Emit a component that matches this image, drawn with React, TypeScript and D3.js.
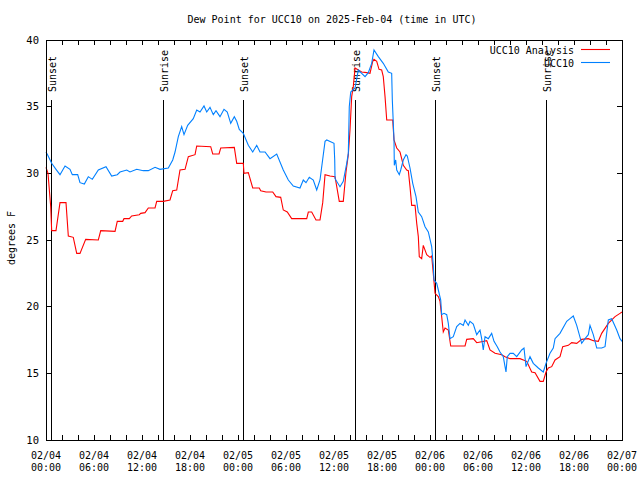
import React from "react";
import * as d3 from "d3";

const title = "Dew Point for UCC10 on 2025-Feb-04 (time in UTC)";
const yLabel = "degrees F";
const yTicks = [10, 15, 20, 25, 30, 35, 40];
const xLabelHours = [0, 6, 12, 18, 24, 30, 36, 42, 48, 54, 60, 66, 72];
const xLabelDates = ["02/04", "02/04", "02/04", "02/04", "02/05", "02/05", "02/05", "02/05", "02/06", "02/06", "02/06", "02/06", "02/07"];
const xLabelTimes = ["00:00", "06:00", "12:00", "18:00", "00:00", "06:00", "12:00", "18:00", "00:00", "06:00", "12:00", "18:00", "00:00"];

const sunHours = [0.63, 14.63, 24.63, 38.63, 48.63, 62.5];
const sunLabels = ["Sunset", "Sunrise", "Sunset", "Sunrise", "Sunset", "Sunrise"];

// hours since 02/04 00:00 UTC
const obsHours = [0, 0.19, 0.71, 1.25, 1.75, 2.38, 3.0, 3.29, 3.96, 4.25, 4.79, 5.29, 5.79, 6.54, 7.5, 8.21, 8.91, 9.25, 10.09, 10.5, 11.34, 12.16, 12.79, 13.63, 14.25, 15.29, 15.84, 16.13, 16.54, 16.96, 17.25, 17.71, 18.41, 18.84, 19.25, 19.75, 20.09, 20.5, 20.91, 21.25, 21.75, 22.25, 22.66, 23.09, 23.54, 23.84, 24.16, 24.66, 25.29, 25.84, 26.34, 26.75, 27.38, 28.0, 28.84, 29.66, 30.29, 30.91, 31.75, 32.16, 32.5, 32.91, 33.41, 33.84, 34.25, 34.88, 35.09, 36.0, 36.09, 36.13, 36.75, 37.16, 37.59, 37.79, 37.91, 38.09, 38.63, 39.04, 39.46, 39.88, 40.29, 40.71, 41.0, 41.54, 42.16, 42.79, 43.21, 43.29, 43.5, 43.54, 43.71, 43.84, 44.16, 44.34, 44.66, 45.0, 45.16, 45.5, 45.84, 46.25, 46.54, 46.96, 47.38, 47.79, 48.21, 48.41, 48.5, 48.84, 49.04, 49.34, 49.46, 49.75, 50.09, 50.29, 50.5, 50.91, 51.34, 51.75, 52.16, 52.38, 52.79, 53.0, 53.41, 53.84, 54.25, 54.46, 54.66, 54.88, 55.29, 55.71, 56.0, 56.41, 56.75, 57.16, 57.38, 57.5, 57.66, 58.0, 58.41, 58.84, 59.46, 59.75, 60.0, 60.5, 60.91, 61.54, 62.16, 62.5, 63.0, 63.41, 63.63, 64.25, 65.09, 65.5, 65.91, 66.34, 66.96, 67.38, 67.79, 68.0, 68.41, 68.84, 69.46, 69.88, 70.29, 70.71, 71.34, 71.75, 72.0];
const obsValues = [31.6, 31.4, 30.75, 30.3, 29.9, 30.55, 30.3, 29.9, 29.9, 29.3, 29.2, 29.75, 29.55, 30.25, 30.5, 29.8, 29.9, 30.1, 30.25, 30.1, 30.3, 30.2, 30.2, 30.45, 30.3, 30.4, 31.0, 31.6, 32.75, 33.5, 32.9, 33.6, 34.1, 34.75, 34.6, 35.05, 34.6, 34.95, 34.4, 34.7, 34.25, 34.8, 34.6, 33.75, 34.25, 33.9, 33.3, 33.0, 32.1, 31.6, 32.1, 31.6, 31.6, 31.1, 31.45, 30.25, 29.5, 29.05, 28.9, 29.5, 29.3, 29.7, 29.5, 28.75, 29.5, 32.4, 32.5, 32.25, 31.0, 29.6, 29.0, 29.4, 30.75, 31.5, 35.0, 36.1, 36.4, 37.75, 37.5, 37.25, 37.55, 38.25, 39.25, 38.75, 38.25, 37.6, 37.5, 35.5, 32.5, 30.6, 31.0, 30.25, 29.9, 30.25, 31.0, 31.4, 31.3, 30.4, 29.25, 28.25, 27.1, 26.75, 26.0, 25.6, 24.5, 23.1, 22.0, 21.75, 21.25, 20.5, 19.4, 19.5, 19.4, 18.75, 17.6, 17.75, 18.5, 18.75, 18.6, 19.0, 18.6, 18.9, 18.7, 17.9, 18.25, 17.6, 16.75, 17.75, 17.6, 18.0, 17.4, 17.0, 16.6, 16.25, 15.5, 15.1, 16.25, 16.5, 16.5, 16.25, 16.75, 16.9, 15.5, 16.25, 15.75, 15.4, 15.1, 15.75, 16.5, 16.9, 17.6, 18.0, 18.9, 19.1, 19.3, 18.6, 17.25, 17.6, 17.9, 18.6, 17.9, 16.9, 16.9, 17.0, 19.0, 19.1, 18.25, 17.6, 17.4];

const anaHours = [0, 0.25, 0.59, 0.71, 1.25, 1.75, 2.5, 2.79, 3.41, 3.84, 4.25, 4.96, 6.54, 6.84, 8.63, 8.91, 9.59, 9.75, 10.41, 10.71, 11.66, 11.84, 12.38, 12.79, 13.63, 13.84, 14.66, 15.5, 15.84, 16.34, 16.75, 17.38, 17.79, 18.63, 18.84, 20.59, 20.84, 21.63, 21.84, 23.54, 23.84, 24.66, 24.75, 25.29, 25.84, 26.66, 26.84, 27.5, 28.34, 28.75, 29.34, 29.66, 30.16, 30.71, 32.59, 32.79, 33.21, 33.75, 34.25, 34.59, 34.88, 35.5, 36.13, 36.66, 37.16, 37.5, 37.79, 38.0, 38.21, 38.41, 38.63, 39.04, 39.46, 40.09, 40.5, 40.84, 41.0, 41.34, 41.63, 41.96, 42.16, 42.38, 42.59, 43.34, 43.5, 43.84, 44.25, 44.46, 44.66, 45.09, 45.29, 45.5, 45.71, 46.13, 46.34, 46.54, 46.66, 46.96, 47.16, 47.59, 48.0, 48.21, 48.41, 48.63, 49.04, 49.25, 49.46, 49.66, 49.88, 50.29, 50.59, 52.38, 52.59, 53.41, 53.84, 55.09, 55.5, 56.13, 56.96, 57.38, 58.0, 59.25, 60.09, 60.71, 61.13, 61.75, 62.16, 62.5, 62.79, 63.21, 63.63, 64.25, 64.59, 65.29, 65.71, 66.34, 66.96, 67.79, 68.41, 69.04, 69.46, 70.29, 71.13, 71.75, 72.0];
const anaValues = [30.45, 30.0, 27.5, 25.7, 25.7, 27.8, 27.8, 25.3, 25.2, 24.0, 24.0, 25.05, 25.0, 25.7, 25.65, 26.4, 26.4, 26.6, 26.6, 26.8, 26.9, 27.0, 27.05, 27.4, 27.4, 27.9, 27.9, 28.0, 28.7, 28.75, 30.25, 30.3, 31.25, 31.4, 32.05, 32.0, 31.45, 31.45, 31.9, 31.95, 30.75, 30.75, 30.0, 30.05, 28.9, 28.9, 28.7, 28.6, 28.6, 28.25, 28.2, 27.25, 27.1, 26.6, 26.6, 27.1, 27.1, 26.5, 26.5, 27.8, 29.9, 29.8, 29.75, 27.9, 27.9, 30.1, 31.4, 33.25, 35.75, 36.5, 37.9, 37.75, 37.6, 37.55, 37.5, 38.4, 38.55, 38.4, 37.8, 37.75, 37.25, 35.75, 34.0, 34.0, 32.5, 31.9, 31.6, 31.1, 30.6, 30.25, 30.2, 29.0, 27.6, 27.6, 26.25, 25.25, 23.75, 23.6, 24.6, 23.9, 23.7, 23.8, 22.5, 21.0, 20.75, 20.4, 19.25, 18.1, 18.4, 18.25, 17.05, 17.05, 17.55, 17.6, 17.3, 17.45, 16.75, 16.5, 16.4, 16.25, 16.1, 16.1, 15.9, 15.1, 15.05, 14.4, 14.4, 15.1, 15.4, 15.5, 16.0, 16.25, 17.0, 17.1, 17.3, 17.25, 17.55, 17.6, 17.45, 17.4, 18.0, 18.75, 19.25, 19.5, 19.6];

const seriesNames = ["UCC10 Analysis", "UCC10"];
const seriesColors = ["#ff0000", "#0080ff"];

const W = 640, H = 480;
const L = 46, R = 622, T = 40, B = 440;
const FONT = "'DejaVu Sans Mono', 'Liberation Mono', monospace";

export default function App() {
  const x = d3.scaleLinear().domain([0, 72]).range([L, R]);
  const y = d3.scaleLinear().domain([10, 40]).range([B, T]);
  const line = d3.line<[number, number]>().x(d => x(d[0])).y(d => y(d[1]));
  const ana = anaHours.map((h, i) => [h, anaValues[i]] as [number, number]);
  const obs = obsHours.map((h, i) => [h, obsValues[i]] as [number, number]);
  const minorTicks = d3.range(0, 73, 2);

  return (
    <svg width={W} height={H} style={{ position: "absolute", left: 0, top: 0, background: "#fff" }} fontFamily={FONT} fontSize={10}>
      <rect x={0} y={0} width={W} height={H} fill="#fff" />
      <text x={332} y={23} textAnchor="middle" fill="#000">{title}</text>
      <text transform={`translate(15,238) rotate(-90)`} textAnchor="middle" fill="#000">{yLabel}</text>

      <g shapeRendering="crispEdges" stroke="#000">
        {yTicks.map(v => (
          <g key={"yt" + v}>
            <line x1={L} x2={L + 5} y1={y(v)} y2={y(v)} />
            <line x1={R - 5} x2={R} y1={y(v)} y2={y(v)} />
          </g>
        ))}
        {minorTicks.map(h => (
          <g key={"xt" + h}>
            <line x1={x(h)} x2={x(h)} y1={B} y2={B - 5} />
            <line x1={x(h)} x2={x(h)} y1={T} y2={T + 5} />
          </g>
        ))}
      </g>
      {yTicks.map(v => (
        <text key={"yl" + v} x={39} y={y(v)} dy="0.35em" textAnchor="end" fill="#000" fontSize={10.5}>{v}</text>
      ))}
      {xLabelHours.map((h, i) => (
        <g key={"xl" + h}>
          <text x={x(h)} y={459} textAnchor="middle" fill="#000">{xLabelDates[i]}</text>
          <text x={x(h)} y={471} textAnchor="middle" fill="#000">{xLabelTimes[i]}</text>
        </g>
      ))}

      {sunHours.map((h, i) => (
        <g key={"sun" + i}>
          <line x1={x(h)} x2={x(h)} y1={100} y2={B} stroke="#000" shapeRendering="crispEdges" />
          <text transform={`translate(${x(h) + 5},92) rotate(-90)`} textAnchor="start" fill="#000">{sunLabels[i]}</text>
        </g>
      ))}

      <path d={line(ana) || ""} fill="none" stroke={seriesColors[0]} strokeWidth={1.1} />
      <path d={line(obs) || ""} fill="none" stroke={seriesColors[1]} strokeWidth={1.1} />

      {seriesNames.map((n, i) => (
        <g key={"lg" + i}>
          <text x={574} y={50 + i * 13} dy="0.35em" textAnchor="end" fill="#000">{n}</text>
          <line x1={581} x2={610} y1={49.5 + i * 13} y2={49.5 + i * 13} stroke={seriesColors[i]} strokeWidth={1.1} />
        </g>
      ))}

      <rect x={L} y={T} width={R - L} height={B - T} fill="none" stroke="#000" shapeRendering="crispEdges" />
    </svg>
  );
}
